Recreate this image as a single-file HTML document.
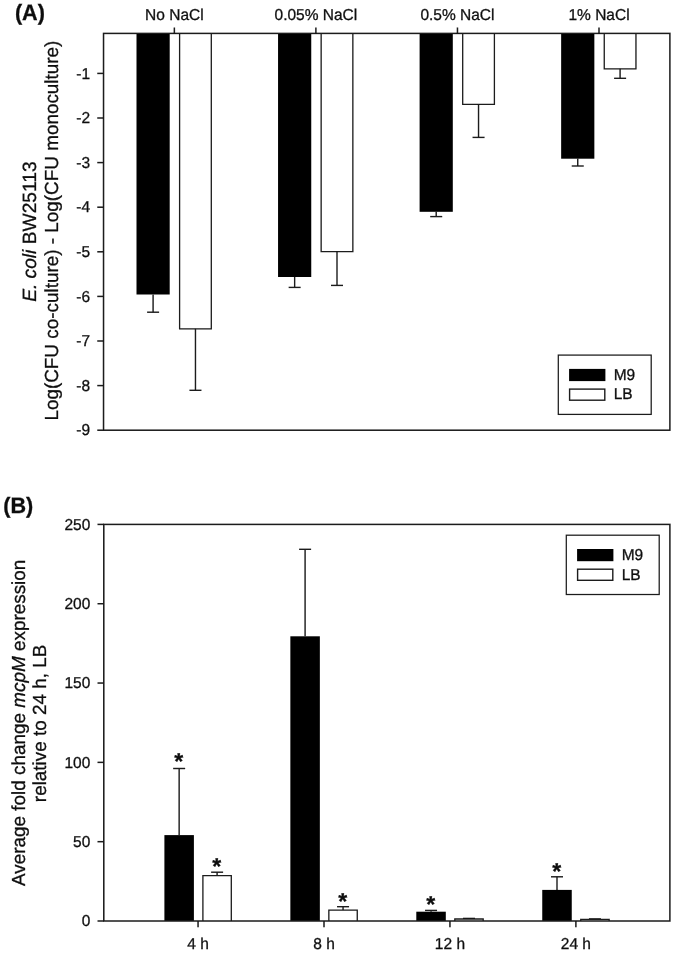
<!DOCTYPE html>
<html><head><meta charset="utf-8"><style>
html,body{margin:0;padding:0;background:#fff;}
svg{display:block;}
text{font-family:"Liberation Sans",sans-serif;fill:#111;text-rendering:geometricPrecision;stroke:#111;stroke-width:0.3px;}
.t{font-size:15.5px;}
.ax{font-size:18.9px;}
.lab{font-size:21.6px;font-weight:bold;}
.ast{font-size:23.0px;font-weight:bold;}
</style></head><body>
<svg width="675" height="953" viewBox="0 0 675 953">
<defs><filter id="b" filterUnits="userSpaceOnUse" x="0" y="0" width="675" height="953"><feGaussianBlur stdDeviation="0.4"/></filter></defs>
<rect width="675" height="953" fill="#fff"/>
<g filter="url(#b)">
<rect x="136.50" y="33.40" width="33.20" height="261.10" fill="#000"/>
<line x1="153.10" y1="294.40" x2="153.10" y2="312.20" stroke="#1a1a1a" stroke-width="1.4"/>
<line x1="147.10" y1="312.20" x2="159.10" y2="312.20" stroke="#1a1a1a" stroke-width="1.4"/>
<path d="M179.60,33.40 V328.80 H211.30 V33.40" fill="#fff" stroke="#1a1a1a" stroke-width="1.3"/>
<line x1="195.45" y1="328.80" x2="195.45" y2="390.30" stroke="#1a1a1a" stroke-width="1.4"/>
<line x1="189.45" y1="390.30" x2="201.45" y2="390.30" stroke="#1a1a1a" stroke-width="1.4"/>
<rect x="278.05" y="33.40" width="33.20" height="243.60" fill="#000"/>
<line x1="294.65" y1="276.90" x2="294.65" y2="287.40" stroke="#1a1a1a" stroke-width="1.4"/>
<line x1="288.65" y1="287.40" x2="300.65" y2="287.40" stroke="#1a1a1a" stroke-width="1.4"/>
<path d="M321.15,33.40 V251.60 H352.85 V33.40" fill="#fff" stroke="#1a1a1a" stroke-width="1.3"/>
<line x1="337.00" y1="251.60" x2="337.00" y2="285.40" stroke="#1a1a1a" stroke-width="1.4"/>
<line x1="331.00" y1="285.40" x2="343.00" y2="285.40" stroke="#1a1a1a" stroke-width="1.4"/>
<rect x="419.60" y="33.40" width="33.20" height="178.40" fill="#000"/>
<line x1="436.20" y1="211.70" x2="436.20" y2="216.60" stroke="#1a1a1a" stroke-width="1.4"/>
<line x1="430.20" y1="216.60" x2="442.20" y2="216.60" stroke="#1a1a1a" stroke-width="1.4"/>
<path d="M462.70,33.40 V104.40 H494.40 V33.40" fill="#fff" stroke="#1a1a1a" stroke-width="1.3"/>
<line x1="478.55" y1="104.40" x2="478.55" y2="137.40" stroke="#1a1a1a" stroke-width="1.4"/>
<line x1="472.55" y1="137.40" x2="484.55" y2="137.40" stroke="#1a1a1a" stroke-width="1.4"/>
<rect x="561.15" y="33.40" width="33.20" height="125.30" fill="#000"/>
<line x1="577.75" y1="158.60" x2="577.75" y2="166.00" stroke="#1a1a1a" stroke-width="1.4"/>
<line x1="571.75" y1="166.00" x2="583.75" y2="166.00" stroke="#1a1a1a" stroke-width="1.4"/>
<path d="M604.25,33.40 V68.80 H635.95 V33.40" fill="#fff" stroke="#1a1a1a" stroke-width="1.3"/>
<line x1="620.10" y1="68.80" x2="620.10" y2="78.30" stroke="#1a1a1a" stroke-width="1.4"/>
<line x1="614.10" y1="78.30" x2="626.10" y2="78.30" stroke="#1a1a1a" stroke-width="1.4"/>
<rect x="103.55" y="33.4" width="566.35" height="396.80" fill="none" stroke="#1a1a1a" stroke-width="1.5"/>
<line x1="97.25" y1="73.40" x2="103.55" y2="73.40" stroke="#1a1a1a" stroke-width="1.5"/>
<text transform="translate(90.10,78.50) scale(1,1.02)" text-anchor="end" class="t">-1</text>
<line x1="97.25" y1="118.00" x2="103.55" y2="118.00" stroke="#1a1a1a" stroke-width="1.5"/>
<text transform="translate(90.10,123.10) scale(1,1.02)" text-anchor="end" class="t">-2</text>
<line x1="97.25" y1="162.60" x2="103.55" y2="162.60" stroke="#1a1a1a" stroke-width="1.5"/>
<text transform="translate(90.10,167.70) scale(1,1.02)" text-anchor="end" class="t">-3</text>
<line x1="97.25" y1="207.20" x2="103.55" y2="207.20" stroke="#1a1a1a" stroke-width="1.5"/>
<text transform="translate(90.10,212.30) scale(1,1.02)" text-anchor="end" class="t">-4</text>
<line x1="97.25" y1="251.80" x2="103.55" y2="251.80" stroke="#1a1a1a" stroke-width="1.5"/>
<text transform="translate(90.10,256.90) scale(1,1.02)" text-anchor="end" class="t">-5</text>
<line x1="97.25" y1="296.40" x2="103.55" y2="296.40" stroke="#1a1a1a" stroke-width="1.5"/>
<text transform="translate(90.10,301.50) scale(1,1.02)" text-anchor="end" class="t">-6</text>
<line x1="97.25" y1="341.00" x2="103.55" y2="341.00" stroke="#1a1a1a" stroke-width="1.5"/>
<text transform="translate(90.10,346.10) scale(1,1.02)" text-anchor="end" class="t">-7</text>
<line x1="97.25" y1="385.60" x2="103.55" y2="385.60" stroke="#1a1a1a" stroke-width="1.5"/>
<text transform="translate(90.10,390.70) scale(1,1.02)" text-anchor="end" class="t">-8</text>
<line x1="97.25" y1="430.20" x2="103.55" y2="430.20" stroke="#1a1a1a" stroke-width="1.5"/>
<text transform="translate(90.10,435.30) scale(1,1.02)" text-anchor="end" class="t">-9</text>
<line x1="174.35" y1="27.50" x2="174.35" y2="33.40" stroke="#1a1a1a" stroke-width="1.5"/>
<text transform="translate(174.35,19.70) scale(1,1.02)" text-anchor="middle" class="t">No NaCl</text>
<line x1="315.90" y1="27.50" x2="315.90" y2="33.40" stroke="#1a1a1a" stroke-width="1.5"/>
<text transform="translate(315.90,19.70) scale(1,1.02)" text-anchor="middle" class="t">0.05% NaCl</text>
<line x1="457.45" y1="27.50" x2="457.45" y2="33.40" stroke="#1a1a1a" stroke-width="1.5"/>
<text transform="translate(457.45,19.70) scale(1,1.02)" text-anchor="middle" class="t">0.5% NaCl</text>
<line x1="599.00" y1="27.50" x2="599.00" y2="33.40" stroke="#1a1a1a" stroke-width="1.5"/>
<text transform="translate(599.00,19.70) scale(1,1.02)" text-anchor="middle" class="t">1% NaCl</text>
<rect x="558.30" y="355.10" width="92.9" height="59.3" fill="#fff" stroke="#1a1a1a" stroke-width="1.25"/>
<rect x="569.10" y="368.90" width="36.3" height="12.2" fill="#000"/>
<rect x="569.60" y="389.10" width="35.2" height="11.1" fill="#fff" stroke="#1a1a1a" stroke-width="1.4"/>
<text transform="translate(613.70,380.30) scale(1,1.02)" class="t">M9</text>
<text transform="translate(613.70,399.40) scale(1,1.02)" class="t">LB</text>
<text transform="translate(14.90,20.20) scale(1,1.03)" class="lab">(A)</text>
<text transform="translate(36.40,231.65) rotate(-90)" text-anchor="middle" class="ax" style="font-size:19.2px"><tspan font-style="italic">E. coli</tspan> BW25113</text>
<text transform="translate(58.20,230.60) rotate(-90)" text-anchor="middle" class="ax">Log(CFU co-culture) - Log(CFU monoculture)</text>
<line x1="179.15" y1="835.10" x2="179.15" y2="768.50" stroke="#1a1a1a" stroke-width="1.4"/>
<line x1="173.15" y1="768.50" x2="185.15" y2="768.50" stroke="#1a1a1a" stroke-width="1.4"/>
<rect x="164.40" y="835.10" width="29.50" height="85.90" fill="#000"/>
<line x1="217.10" y1="875.70" x2="217.10" y2="872.20" stroke="#1a1a1a" stroke-width="1.4"/>
<line x1="211.10" y1="872.20" x2="223.10" y2="872.20" stroke="#1a1a1a" stroke-width="1.4"/>
<path d="M202.90,921.00 V875.70 H231.30 V921.00" fill="#fff" stroke="#1a1a1a" stroke-width="1.3"/>
<line x1="305.10" y1="636.30" x2="305.10" y2="549.30" stroke="#1a1a1a" stroke-width="1.4"/>
<line x1="299.10" y1="549.30" x2="311.10" y2="549.30" stroke="#1a1a1a" stroke-width="1.4"/>
<rect x="290.35" y="636.30" width="29.50" height="284.70" fill="#000"/>
<line x1="343.05" y1="910.20" x2="343.05" y2="906.70" stroke="#1a1a1a" stroke-width="1.4"/>
<line x1="337.05" y1="906.70" x2="349.05" y2="906.70" stroke="#1a1a1a" stroke-width="1.4"/>
<path d="M328.85,921.00 V910.20 H357.25 V921.00" fill="#fff" stroke="#1a1a1a" stroke-width="1.3"/>
<line x1="431.05" y1="911.70" x2="431.05" y2="910.40" stroke="#1a1a1a" stroke-width="1.4"/>
<line x1="425.05" y1="910.40" x2="437.05" y2="910.40" stroke="#1a1a1a" stroke-width="1.4"/>
<rect x="416.30" y="911.70" width="29.50" height="9.30" fill="#000"/>
<line x1="469.00" y1="919.00" x2="469.00" y2="918.40" stroke="#1a1a1a" stroke-width="1.4"/>
<line x1="463.00" y1="918.40" x2="475.00" y2="918.40" stroke="#1a1a1a" stroke-width="1.4"/>
<path d="M454.80,921.00 V919.00 H483.20 V921.00" fill="#fff" stroke="#1a1a1a" stroke-width="1.3"/>
<line x1="557.00" y1="889.90" x2="557.00" y2="876.80" stroke="#1a1a1a" stroke-width="1.4"/>
<line x1="551.00" y1="876.80" x2="563.00" y2="876.80" stroke="#1a1a1a" stroke-width="1.4"/>
<rect x="542.25" y="889.90" width="29.50" height="31.10" fill="#000"/>
<line x1="594.95" y1="919.40" x2="594.95" y2="918.90" stroke="#1a1a1a" stroke-width="1.4"/>
<line x1="588.95" y1="918.90" x2="600.95" y2="918.90" stroke="#1a1a1a" stroke-width="1.4"/>
<path d="M580.75,921.00 V919.40 H609.15 V921.00" fill="#fff" stroke="#1a1a1a" stroke-width="1.3"/>
<rect x="103.8" y="524.4" width="566.10" height="396.60" fill="none" stroke="#1a1a1a" stroke-width="1.5"/>
<line x1="97.50" y1="921.00" x2="103.80" y2="921.00" stroke="#1a1a1a" stroke-width="1.5"/>
<text transform="translate(90.30,926.20) scale(1,1.02)" text-anchor="end" class="t">0</text>
<line x1="97.50" y1="841.68" x2="103.80" y2="841.68" stroke="#1a1a1a" stroke-width="1.5"/>
<text transform="translate(90.30,846.88) scale(1,1.02)" text-anchor="end" class="t">50</text>
<line x1="97.50" y1="762.36" x2="103.80" y2="762.36" stroke="#1a1a1a" stroke-width="1.5"/>
<text transform="translate(90.30,767.56) scale(1,1.02)" text-anchor="end" class="t">100</text>
<line x1="97.50" y1="683.04" x2="103.80" y2="683.04" stroke="#1a1a1a" stroke-width="1.5"/>
<text transform="translate(90.30,688.24) scale(1,1.02)" text-anchor="end" class="t">150</text>
<line x1="97.50" y1="603.72" x2="103.80" y2="603.72" stroke="#1a1a1a" stroke-width="1.5"/>
<text transform="translate(90.30,608.92) scale(1,1.02)" text-anchor="end" class="t">200</text>
<line x1="97.50" y1="524.40" x2="103.80" y2="524.40" stroke="#1a1a1a" stroke-width="1.5"/>
<text transform="translate(90.30,529.60) scale(1,1.02)" text-anchor="end" class="t">250</text>
<line x1="198.05" y1="921.00" x2="198.05" y2="927.20" stroke="#1a1a1a" stroke-width="1.5"/>
<text transform="translate(198.05,948.60) scale(1,1.02)" text-anchor="middle" class="t">4 h</text>
<line x1="324.00" y1="921.00" x2="324.00" y2="927.20" stroke="#1a1a1a" stroke-width="1.5"/>
<text transform="translate(324.00,948.60) scale(1,1.02)" text-anchor="middle" class="t">8 h</text>
<line x1="449.95" y1="921.00" x2="449.95" y2="927.20" stroke="#1a1a1a" stroke-width="1.5"/>
<text transform="translate(449.95,948.60) scale(1,1.02)" text-anchor="middle" class="t">12 h</text>
<line x1="575.90" y1="921.00" x2="575.90" y2="927.20" stroke="#1a1a1a" stroke-width="1.5"/>
<text transform="translate(575.90,948.60) scale(1,1.02)" text-anchor="middle" class="t">24 h</text>
<rect x="566.30" y="535.20" width="92.9" height="59.3" fill="#fff" stroke="#1a1a1a" stroke-width="1.25"/>
<rect x="577.10" y="549.00" width="36.3" height="12.2" fill="#000"/>
<rect x="577.60" y="569.20" width="35.2" height="11.1" fill="#fff" stroke="#1a1a1a" stroke-width="1.4"/>
<text transform="translate(621.70,560.40) scale(1,1.02)" class="t">M9</text>
<text transform="translate(621.70,579.50) scale(1,1.02)" class="t">LB</text>
<text transform="translate(178.80,769.00)" text-anchor="middle" class="ast">*</text>
<text transform="translate(216.80,873.60)" text-anchor="middle" class="ast">*</text>
<text transform="translate(342.60,909.30)" text-anchor="middle" class="ast">*</text>
<text transform="translate(430.60,912.45)" text-anchor="middle" class="ast">*</text>
<text transform="translate(556.70,879.30)" text-anchor="middle" class="ast">*</text>
<text transform="translate(3.20,512.90) scale(1,1.03)" class="lab">(B)</text>
<text transform="translate(25.10,722.80) rotate(-90)" text-anchor="middle" class="ax">Average fold change <tspan font-style="italic">mcpM</tspan> expression</text>
<text transform="translate(46.00,723.40) rotate(-90)" text-anchor="middle" class="ax">relative to 24 h, LB</text>
</g>
</svg></body></html>
